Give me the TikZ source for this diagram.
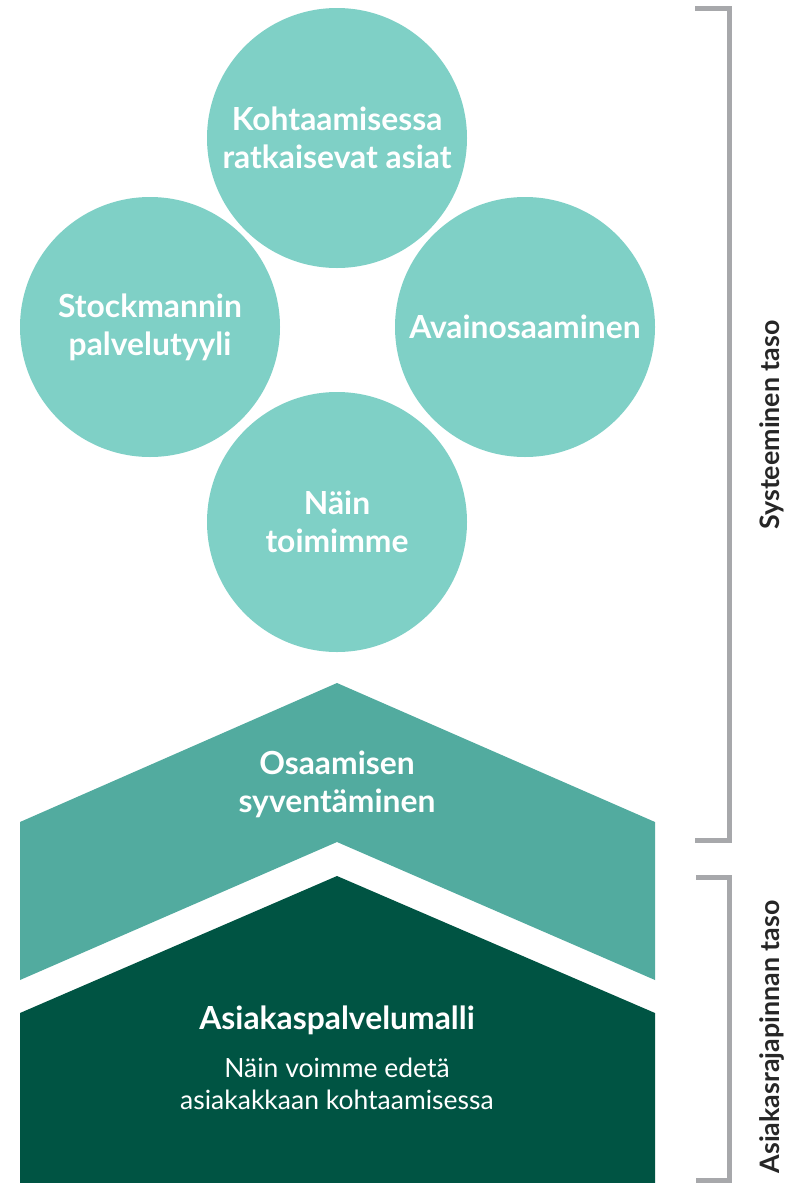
\documentclass[tikz,border=0pt]{standalone}
\usepackage{fontspec}
\setmainfont{Lato}
\definecolor{circfill}{HTML}{7FD0C6}
\definecolor{midgreen}{HTML}{52AB9F}
\definecolor{darkgreen}{HTML}{005443}
\definecolor{bracketgray}{HTML}{A7A8AB}
\begin{document}
\begin{tikzpicture}[x=1pt,y=-1pt,
  topic/.style={circle, fill=circfill, minimum size=260pt, inner sep=0pt,
    text=white, align=center, font=\bfseries\fontsize{31.8}{38}\selectfont},
  bandtext/.style={text=white, align=center},
  bracket/.style={draw=bracketgray, line width=5pt},
  sidelabel/.style={rotate=90, text=black!85, font=\bfseries\fontsize{26.8}{30}\selectfont}]
\useasboundingbox (0,0) rectangle (796,1183);

% four topic circles
\node[topic] (c1) at (337,138) {Kohtaamisessa\\ratkaisevat asiat};
\node[topic] (c2) at (150,327) {Stockmannin\\palvelutyyli};
\node[topic] (c3) at (525,327) {Avainosaaminen};
\node[topic] (c4) at (337,522) {Näin\\toimimme};

% upper chevron
\fill[midgreen] (337,683) -- (655,822) -- (655,980) -- (337,842) -- (20,980) -- (20,822) -- cycle;
\node[bandtext, font=\bfseries\fontsize{31.8}{38}\selectfont] (osa) at (337,784) {Osaamisen\\syventäminen};

% lower pentagon
\fill[darkgreen] (337,876) -- (655,1013) -- (655,1183) -- (20,1183) -- (20,1013) -- cycle;
\node[bandtext, font=\bfseries\fontsize{31.8}{38}\selectfont] (asp) at (337,1020) {Asiakaspalvelumalli};
\node[bandtext, font=\fontsize{26.5}{32}\selectfont] (aspsub) at (337,1084) {Näin voimme edetä\\asiakakkaan kohtaamisessa};

% level brackets
\draw[bracket] (695,8.5) -- (729.5,8.5) -- (729.5,840) -- (695,840);
\draw[bracket] (696,877) -- (729.5,877) -- (729.5,1180) -- (696,1180);
\node[sidelabel] (sys) at (772,425) {Systeeminen taso};
\node[sidelabel] (asi) at (772,1037) {Asiakasrajapinnan taso};
\end{tikzpicture}
\end{document}
